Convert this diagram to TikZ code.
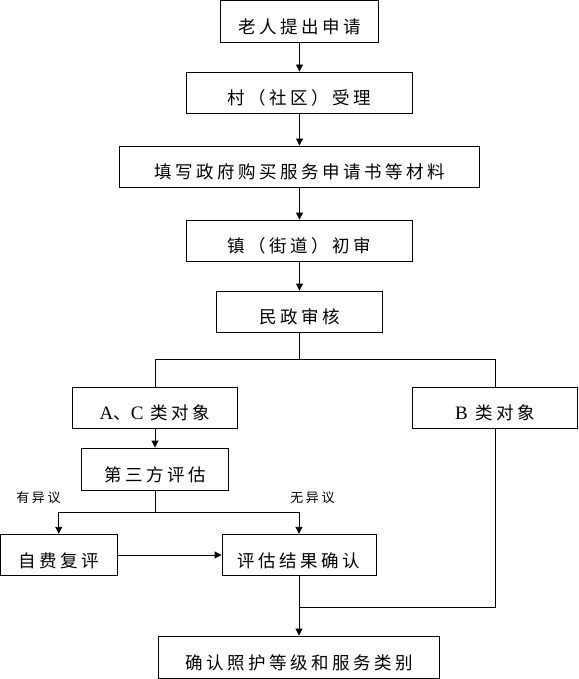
\documentclass[tikz,border=0pt]{standalone}
\usepackage{fontspec}
\setmainfont{Liberation Serif}
\newfontfamily\cjk[LetterSpace=20]{Noto Sans CJK SC}
\newcommand{\latin}[1]{{\fontsize{19}{20}\selectfont\rmfamily #1}}
\usetikzlibrary{arrows.meta}

\begin{document}
\begin{tikzpicture}[
  x=1pt, y=-1pt,
  line width=0.9pt,
  box/.style={draw, inner sep=0pt, minimum height=41pt, text height=26pt, text depth=2pt, font=\fontsize{17.5}{20}\selectfont\cjk},
  note/.style={inner sep=0pt, font=\fontsize{13}{15}\selectfont\cjk},
  arr/.style={-{Triangle[length=7pt,width=7pt]}},
]
  \useasboundingbox (0,0) rectangle (578,679);

  \node[box, minimum width=158pt, minimum height=41.5pt] (apply) at (299.5,21.25) {老人提出申请};
  \node[box, minimum width=226pt] (village) at (299.5,92.5) {村（社区）受理};
  \node[box, minimum width=360pt] (forms) at (299.5,166.5) {填写政府购买服务申请书等材料};
  \node[box, minimum width=226pt] (town) at (299.5,240.5) {镇（街道）初审};
  \node[box, minimum width=166pt] (civil) at (299.5,311.5) {民政审核};

  \node[box, minimum width=165pt] (typeac) at (155,407.5) {\latin{A}、\latin{C} 类对象};
  \node[box, minimum width=165.5pt] (typeb) at (495,407.5) {\latin{B} 类对象};
  \node[box, minimum width=147pt, minimum height=42pt] (assess) at (155,469) {第三方评估};

  \node[box, minimum width=116.5pt, minimum height=41.5pt] (review) at (58.75,555) {自费复评};
  \node[box, minimum width=154pt, minimum height=41.5pt] (result) at (299,555) {评估结果确认};
  \node[box, minimum width=281.5pt, minimum height=42.5pt] (final) at (299,657.25) {确认照护等级和服务类别};

  \node[note] (dispute) at (38.5,497.5) {有异议};
  \node[note] (nodispute) at (312.5,497.5) {无异议};

  \coordinate (split) at (299.5,359.5);
  \coordinate (fork) at (155,512);
  \coordinate (merge) at (299,607);

  \draw[arr] (apply) -- (village);
  \draw[arr] (village) -- (forms);
  \draw[arr] (forms) -- (town);
  \draw[arr] (town) -- (civil);
  \draw (civil) -- (split);
  \draw (split) -| (typeac.north);
  \draw (split) -| (typeb.north);
  \draw[arr] (typeac) -- (assess);
  \draw (assess) -- (fork);
  \draw[arr] (fork) -| (review.north);
  \draw[arr] (fork) -| (result.north);
  \draw[arr] (review) -- (result);
  \draw[arr] (result) -- (final);
  \draw (typeb.south) |- (merge);
\end{tikzpicture}
\end{document}
